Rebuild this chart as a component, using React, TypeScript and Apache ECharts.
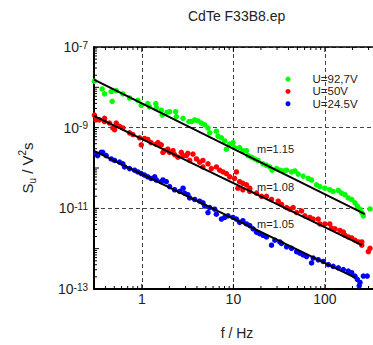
import React, { useEffect, useRef } from 'react';
import * as echarts from 'echarts';

const FONT = '"Liberation Sans", Arial, Helvetica, sans-serif';

const seriesNames = ['U=92,7V', 'U=50V', 'U=24.5V'];
const seriesColors = ['#00ff00', '#ff0000', '#0000ff'];

// U = 92.7 V (green)
const greenF = [0.303, 0.368, 0.391, 0.462, 0.474, 0.525, 0.62, 0.734, 0.904, 0.986, 1.16, 1.21, 1.42, 1.44, 1.63, 1.67, 1.88, 2.01, 2.34, 2.38, 2.82, 3.27, 3.48, 3.78, 4.11, 4.47, 4.86, 5.28, 5.51, 6.52, 6.79, 7.4, 8.04, 8.39, 9.12, 9.91, 10.3, 11.7, 12.7, 13.9, 14.5, 15.8, 17.1, 18.6, 21.1, 23.0, 25.0, 26.5, 29.6, 32.2, 35.0, 38.1, 43.2, 47.0, 51.1, 57.9, 65.7, 71.5, 81.1, 88.1, 100, 113, 123, 140, 152, 166, 180, 196, 213, 226, 242, 253, 263, 311];
const greenS = [1.42e-8, 9.12e-9, 6.9e-9, 7.85e-9, 4.49e-9, 8.3e-9, 6.9e-9, 5.44e-9, 4.75e-9, 3.59e-9, 3.95e-9, 3.29e-9, 3.95e-9, 3.11e-9, 2.72e-9, 2.06e-9, 2.39e-9, 2.49e-9, 2.49e-9, 1.88e-9, 1.71e-9, 1.42e-9, 1.42e-9, 1.56e-9, 1.47e-9, 1.3e-9, 1.18e-9, 9.82e-10, 7.43e-10, 8.16e-10, 6.18e-10, 5.62e-10, 4.68e-10, 2.93e-10, 3.88e-10, 4.26e-10, 3.22e-10, 3.22e-10, 2.68e-10, 2.68e-10, 2.03e-10, 1.85e-10, 1.68e-10, 1.54e-10, 1.27e-10, 1.17e-10, 1.06e-10, 8.83e-11, 9.65e-11, 8.83e-11, 8.46e-11, 8.83e-11, 8.0e-11, 8.46e-11, 7.04e-11, 6.29e-11, 5.51e-11, 5.04e-11, 3.82e-11, 3.47e-11, 3.16e-11, 2.89e-11, 2.62e-11, 2.77e-11, 2.38e-11, 2.18e-11, 1.81e-11, 1.66e-11, 1.37e-11, 1.14e-11, 9.5e-12, 7.84e-12, 6.52e-12, 9.65e-12];

// U = 50 V (red)
const redF = [0.303, 0.316, 0.344, 0.391, 0.391, 0.443, 0.482, 0.503, 0.525, 0.57, 0.62, 0.734, 0.798, 0.944, 0.986, 1.07, 1.16, 1.26, 1.44, 1.5, 1.63, 1.7, 1.77, 1.92, 2.01, 2.19, 2.28, 2.48, 2.7, 2.82, 3.06, 3.18, 3.33, 3.62, 3.95, 4.28, 4.65, 4.65, 5.28, 5.75, 6.52, 7.09, 7.71, 8.39, 9.12, 10.3, 10.8, 11.2, 11.7, 12.7, 12.7, 13.9, 15.1, 15.1, 17.9, 20.3, 23.0, 26.1, 30.9, 33.6, 38.1, 41.4, 45.0, 49.1, 55.6, 60.4, 68.5, 74.5, 84.5, 88.1, 100, 113, 118, 129, 146, 159, 166, 180, 196, 213, 232, 253, 253, 298, 311];
const redS = [2.06e-9, 1.56e-9, 1.56e-9, 1.71e-9, 1.42e-9, 1.3e-9, 9.82e-10, 8.94e-10, 1.3e-9, 1.08e-9, 9.82e-10, 7.43e-10, 6.76e-10, 5.62e-10, 3.75e-10, 5.41e-10, 5.11e-10, 4.26e-10, 3.88e-10, 4.26e-10, 3.75e-10, 2.44e-10, 2.68e-10, 2.93e-10, 2.44e-10, 2.68e-10, 2.15e-10, 1.85e-10, 2.44e-10, 2.03e-10, 2.03e-10, 2.31e-10, 1.54e-10, 2.22e-10, 1.68e-10, 1.4e-10, 1.54e-10, 1.06e-10, 1.27e-10, 9.65e-11, 1.06e-10, 8.83e-11, 8.0e-11, 7.28e-11, 6.05e-11, 5.51e-11, 8.0e-11, 3.16e-11, 4.58e-11, 4.17e-11, 2.89e-11, 3.82e-11, 3.16e-11, 2.62e-11, 2.38e-11, 1.99e-11, 1.99e-11, 1.66e-11, 1.5e-11, 1.25e-11, 1.04e-11, 9.5e-12, 1.04e-11, 7.84e-12, 8.61e-12, 6.52e-12, 5.93e-12, 5.43e-12, 5.43e-12, 4.11e-12, 4.11e-12, 4.11e-12, 3.21e-12, 3.11e-12, 2.82e-12, 2.57e-12, 2.14e-12, 1.95e-12, 1.84e-12, 1.62e-12, 1.47e-12, 1.47e-12, 1.22e-12, 8.44e-13, 1.02e-12];

// U = 24.5 V (blue)
const blueF = [0.316, 0.329, 0.359, 0.374, 0.408, 0.462, 0.503, 0.57, 0.62, 0.647, 0.734, 0.832, 0.904, 0.986, 1.07, 1.16, 1.26, 1.38, 1.44, 1.63, 1.7, 1.85, 2.01, 2.28, 2.59, 2.82, 2.93, 3.18, 3.33, 3.78, 4.28, 4.65, 4.86, 5.28, 5.51, 6.25, 6.52, 7.4, 8.04, 8.74, 9.91, 10.8, 11.7, 12.7, 13.9, 15.1, 16.4, 17.9, 19.4, 21.1, 23.0, 26.1, 28.4, 32.2, 33.6, 38.1, 43.2, 49.1, 53.3, 57.9, 63.1, 71.5, 74.5, 84.5, 95.8, 109, 123, 140, 159, 180, 196, 213, 226, 242, 237, 263, 290];
const blueS = [2.22e-10, 2.03e-10, 2.44e-10, 2.44e-10, 2.03e-10, 1.68e-10, 1.54e-10, 1.4e-10, 1.27e-10, 1.06e-10, 9.65e-11, 8.83e-11, 8.0e-11, 7.28e-11, 6.66e-11, 6.05e-11, 5.51e-11, 6.05e-11, 5.04e-11, 4.58e-11, 5.04e-11, 4.58e-11, 3.47e-11, 2.89e-11, 2.62e-11, 3.16e-11, 2.38e-11, 2.18e-11, 1.81e-11, 1.66e-11, 1.5e-11, 1.37e-11, 1.14e-11, 7.84e-12, 1.04e-11, 9.5e-12, 7.17e-12, 5.43e-12, 5.93e-12, 6.52e-12, 5.93e-12, 5.43e-12, 4.49e-12, 4.93e-12, 4.11e-12, 3.73e-12, 3.11e-12, 2.57e-12, 2.35e-12, 2.14e-12, 1.95e-12, 1.22e-12, 1.62e-12, 1.47e-12, 1.35e-12, 1.11e-12, 1.02e-12, 8.44e-13, 7.72e-13, 7.01e-13, 6.38e-13, 4.42e-13, 5.84e-13, 5.31e-13, 4.83e-13, 4.02e-13, 3.66e-13, 3.35e-13, 3.04e-13, 2.77e-13, 2.53e-13, 2.09e-13, 1.74e-13, 1.45e-13, 1.2e-13, 2.09e-13, 2.09e-13];

// Power-law fit lines (end points)
const fitGreenF = [0.3, 274];
const fitGreenS = [1.55e-8, 7.16e-12];
const fitRedF = [0.3, 254];
const fitRedS = [1.97e-9, 1.22e-12];
const fitBlueF = [0.3, 213];
const fitBlueS = [2.65e-10, 1.92e-13];

const slopeLabels = ['m=1.15', 'm=1.08', 'm=1.05'];
const xMin = 0.3;
const xMax = 400;
const yExpMin = -13;
const yExpMax = -7;

const toPts = (f: number[], s: number[]) => f.map((v, i) => [v, Math.log10(s[i])]);

export default function App() {
  const ref = useRef<HTMLDivElement>(null);
  useEffect(() => {
    const chart = echarts.init(ref.current!, null, { renderer: 'svg' });

    // minor / major axis ticks (decoration)
    const ticks: number[][] = [];
    for (let d = -1; d <= 2; d++) {
      for (let k = 2; k <= 9; k++) {
        const f = k * Math.pow(10, d);
        if (f > xMin && f < xMax) {
          ticks.push([f, yExpMin, 0, 3]);
          ticks.push([f, yExpMax, 1, 3]);
        }
      }
      const f0 = Math.pow(10, d);
      if (f0 > xMin && f0 < xMax) {
        ticks.push([f0, yExpMin, 0, 5]);
        ticks.push([f0, yExpMax, 1, 5]);
      }
    }
    for (let d = yExpMin; d < yExpMax; d++) {
      for (let k = 2; k <= 9; k++) ticks.push([xMin, d + Math.log10(k), 2, 3]);
      if (d > yExpMin) ticks.push([xMin, d, 2, 5]);
    }

    const fits = [
      [fitGreenF, fitGreenS],
      [fitRedF, fitRedS],
      [fitBlueF, fitBlueS],
    ];
    const scatters = [
      [greenF, greenS],
      [redF, redS],
      [blueF, blueS],
    ];

    const dash = { color: '#444', type: [4, 3] as any, width: 1 };

    const option: any = {
      animation: false,
      backgroundColor: '#fff',
      title: {
        text: 'CdTe F33B8.ep',
        left: 188,
        top: 9,
        padding: 0,
        textStyle: { fontSize: 14, fontWeight: 'normal', color: '#222', fontFamily: FONT },
      },
      legend: {
        data: seriesNames,
        orient: 'vertical',
        left: 285.5,
        top: 73,
        padding: 0,
        itemWidth: 5,
        itemHeight: 5,
        itemGap: 0,
        icon: 'circle',
        textStyle: { fontSize: 11.5, lineHeight: 12.3, padding: [0, 0, 0, 17], color: '#222', fontFamily: FONT },
      },
      grid: { left: 94, top: 47, width: 286, height: 248, containLabel: false },
      xAxis: [
        {
          type: 'log',
          logBase: 10,
          min: xMin,
          max: xMax,
          position: 'bottom',
          axisLine: { onZero: false, lineStyle: { color: '#000', width: 2 } },
          axisTick: { show: false },
          axisLabel: {
            color: '#222',
            fontSize: 14,
            fontFamily: FONT,
            margin: 3,
            showMinLabel: false,
            showMaxLabel: false,
            formatter: (v: number) => {
              const l = Math.log10(v);
              return Math.abs(l - Math.round(l)) < 1e-6 ? String(Math.round(v)) : '';
            },
          },
          splitLine: { show: true, lineStyle: dash },
          name: 'f / Hz',
          nameLocation: 'middle',
          nameGap: 37,
          nameTextStyle: { fontSize: 14, color: '#222', fontFamily: FONT },
        },
        {
          type: 'log',
          logBase: 10,
          min: xMin,
          max: xMax,
          position: 'top',
          axisLine: { onZero: false, lineStyle: { color: '#000', width: 1.5 } },
          axisTick: { show: false },
          axisLabel: { show: false },
          splitLine: { show: false },
        },
      ],
      yAxis: {
        type: 'value',
        min: yExpMin,
        max: yExpMax,
        interval: 2,
        axisLine: { show: true, onZero: false, lineStyle: { color: '#000', width: 2 } },
        axisTick: { show: false },
        axisLabel: {
          margin: 6,
          formatter: (v: number) => `{b|10}{s|${v}}`,
          rich: {
            b: { fontSize: 14, lineHeight: 14, verticalAlign: 'bottom', color: '#222', fontFamily: FONT, padding: [4, 0, 0, 0] },
            s: { fontSize: 10, lineHeight: 10, verticalAlign: 'top', color: '#222', fontFamily: FONT },
          },
        },
        splitLine: { show: true, lineStyle: dash },
        name: '{a|S}{sub|u}{a| / V}{sup|2}{a|s}',
        nameLocation: 'middle',
        nameRotate: 90,
        nameGap: 57,
        nameTextStyle: {
          rich: {
            a: { fontSize: 15, lineHeight: 20, verticalAlign: 'middle', color: '#222', fontFamily: FONT },
            sub: { fontSize: 10, lineHeight: 10, verticalAlign: 'bottom', color: '#222', fontFamily: FONT },
            sup: { fontSize: 10, lineHeight: 10, verticalAlign: 'top', color: '#222', fontFamily: FONT },
          },
        },
      },
      graphic: slopeLabels.map((t, i) => ({
        type: 'text',
        left: 257,
        top: [143, 181, 218][i],
        style: { text: t, fontSize: 11, fill: '#222', fontFamily: FONT },
        z: 10,
      })),
      series: [
        ...scatters.map(([f, s], i) => ({
          name: seriesNames[i],
          type: 'scatter',
          data: toPts(f as number[], s as number[]),
          symbol: 'circle',
          symbolSize: 5.5,
          itemStyle: { color: seriesColors[i], opacity: 1 },
          z: 2,
          silent: true,
        })),
        ...fits.map(([f, s], i) => ({
          name: 'fit' + i,
          type: 'line',
          data: toPts(f as number[], s as number[]),
          showSymbol: false,
          symbol: 'none',
          lineStyle: { color: '#000', width: 2 },
          z: 5,
          silent: true,
          legendHoverLink: false,
        })),
        {
          type: 'custom',
          silent: true,
          z: 6,
          clip: false,
          data: ticks,
          encode: { x: 0, y: 1 },
          renderItem: (params: any, api: any) => {
            const p = api.coord([api.value(0), api.value(1)]);
            const kind = api.value(2);
            const len = api.value(3);
            let x2 = p[0];
            let y2 = p[1];
            if (kind === 0) y2 -= len;
            else if (kind === 1) y2 += len;
            else x2 += len;
            return {
              type: 'line',
              shape: { x1: p[0], y1: p[1], x2, y2 },
              style: { stroke: '#000', lineWidth: 1 },
            };
          },
        },
      ],
    };
    chart.setOption(option);
    return () => chart.dispose();
  }, []);
  return (
    <div style={{ position: 'absolute', left: 0, top: 0, width: 373, height: 345, overflow: 'hidden' }}>
      <div ref={ref} style={{ width: 392, height: 345 }} />
    </div>
  );
}
